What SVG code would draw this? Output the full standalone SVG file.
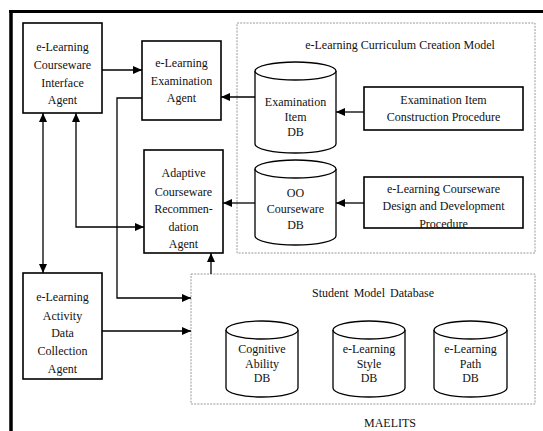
<svg xmlns="http://www.w3.org/2000/svg" width="543" height="431" viewBox="0 0 543 431">
  <style>
    text { font-family: "Liberation Serif", "Times New Roman", serif; font-size: 12px; fill: #111; text-anchor: middle; }
    .box { fill: #fff; stroke: #000; stroke-width: 1.6; }
    .cyl { fill: #fff; stroke: #000; stroke-width: 1.3; }
    .group { fill: none; stroke: #9a9a9a; stroke-width: 1; stroke-dasharray: 2 1.2; }
    .conn { fill: none; stroke: #000; stroke-width: 1.3; }
    .arrow { marker-end: url(#head); }
    .both { marker-start: url(#head); marker-end: url(#head); }
  </style>
  <defs>
    <marker id="head" markerUnits="userSpaceOnUse" markerWidth="10" markerHeight="8" refX="9" refY="4" orient="auto-start-reverse">
      <path d="M0,0 L9,4 L0,8 z" fill="#000"/>
    </marker>
  </defs>

  <rect width="543" height="431" fill="#fff"/>

  <!-- outer frame: top and left rules only -->
  <g id="frame">
    <line x1="9" y1="11.5" x2="543" y2="11.5" stroke="#000" stroke-width="3"/>
    <line x1="11" y1="10" x2="11" y2="431" stroke="#000" stroke-width="3.5"/>
  </g>

  <!-- dotted grouping areas -->
  <g id="curriculum-model">
    <rect class="group" x="237" y="23" width="298" height="230"/>
    <text x="400" y="49">e-Learning Curriculum Creation Model</text>
  </g>
  <g id="student-model-db">
    <rect class="group" x="191" y="274" width="344" height="130"/>
    <text x="373" y="297" word-spacing="2">Student Model Database</text>
  </g>

  <!-- connectors -->
  <g id="connectors">
    <path class="conn arrow" d="M102,70 H142"/>
    <path class="conn both" d="M43,113 V273"/>
    <path class="conn both" d="M76,113 V227 H144"/>
    <path class="conn arrow" d="M142,98 H117 V298 H191"/>
    <path class="conn arrow" d="M102,331 H191"/>
    <path class="conn arrow" d="M211,274 V253"/>
    <path class="conn arrow" d="M255,97 H221"/>
    <path class="conn arrow" d="M255,203 H223"/>
    <path class="conn arrow" d="M364,112 H336"/>
    <path class="conn arrow" d="M364,203 H336"/>
  </g>

  <!-- agents -->
  <g id="interface-agent">
    <rect class="box" x="23" y="23" width="79" height="90"/>
    <text x="62.5" y="51">e-Learning</text>
    <text x="62.5" y="69">Courseware</text>
    <text x="62.5" y="87">Interface</text>
    <text x="62.5" y="104">Agent</text>
  </g>
  <g id="examination-agent">
    <rect class="box" x="142" y="41" width="79" height="79"/>
    <text x="181.5" y="67">e-Learning</text>
    <text x="181.5" y="85">Examination</text>
    <text x="181.5" y="102">Agent</text>
  </g>
  <g id="adaptive-agent">
    <rect class="box" x="144" y="150" width="79" height="103"/>
    <text x="183.5" y="177">Adaptive</text>
    <text x="183.5" y="196">Courseware</text>
    <text x="183.5" y="213">Recommen-</text>
    <text x="183.5" y="231">dation</text>
    <text x="183.5" y="248">Agent</text>
  </g>
  <g id="activity-agent">
    <rect class="box" x="23" y="273" width="79" height="106"/>
    <text x="62.5" y="301">e-Learning</text>
    <text x="62.5" y="320">Activity</text>
    <text x="62.5" y="337">Data</text>
    <text x="62.5" y="355">Collection</text>
    <text x="62.5" y="373">Agent</text>
  </g>

  <!-- curriculum databases and procedures -->
  <g id="exam-item-db">
    <path class="cyl" d="M255,71 V144 A40.5,9 0 0 0 336,144 V71"/>
    <ellipse class="cyl" cx="295.5" cy="71" rx="40.5" ry="9"/>
    <text x="295.5" y="106">Examination</text>
    <text x="295.5" y="121">Item</text>
    <text x="295.5" y="136">DB</text>
  </g>
  <g id="oo-courseware-db">
    <path class="cyl" d="M255,169 V236 A40.5,9 0 0 0 336,236 V169"/>
    <ellipse class="cyl" cx="295.5" cy="169" rx="40.5" ry="9"/>
    <text x="295.5" y="197">OO</text>
    <text x="295.5" y="213">Courseware</text>
    <text x="295.5" y="229">DB</text>
  </g>
  <g id="exam-item-procedure">
    <rect class="box" x="364" y="87" width="159" height="43"/>
    <text x="443.5" y="104">Examination Item</text>
    <text x="443.5" y="121">Construction Procedure</text>
  </g>
  <g id="courseware-procedure">
    <rect class="box" x="364" y="177" width="159" height="51"/>
    <text x="443.5" y="193">e-Learning Courseware</text>
    <text x="443.5" y="210">Design and Development</text>
    <text x="443.5" y="228">Procedure</text>
  </g>

  <!-- student model databases -->
  <g id="cognitive-db">
    <path class="cyl" d="M226,330 V388 A36,9 0 0 0 298,388 V330"/>
    <ellipse class="cyl" cx="262" cy="330" rx="36" ry="9"/>
    <text x="262" y="353">Cognitive</text>
    <text x="262" y="368">Ability</text>
    <text x="262" y="382">DB</text>
  </g>
  <g id="style-db">
    <path class="cyl" d="M333,330 V388 A36,9 0 0 0 405,388 V330"/>
    <ellipse class="cyl" cx="369" cy="330" rx="36" ry="9"/>
    <text x="369" y="353">e-Learning</text>
    <text x="369" y="368">Style</text>
    <text x="369" y="382">DB</text>
  </g>
  <g id="path-db">
    <path class="cyl" d="M434,330 V388 A36.5,9 0 0 0 507,388 V330"/>
    <ellipse class="cyl" cx="470.5" cy="330" rx="36.5" ry="9"/>
    <text x="470.5" y="353">e-Learning</text>
    <text x="470.5" y="368">Path</text>
    <text x="470.5" y="382">DB</text>
  </g>

  <g id="caption">
    <text x="390" y="427">MAELITS</text>
  </g>
</svg>
